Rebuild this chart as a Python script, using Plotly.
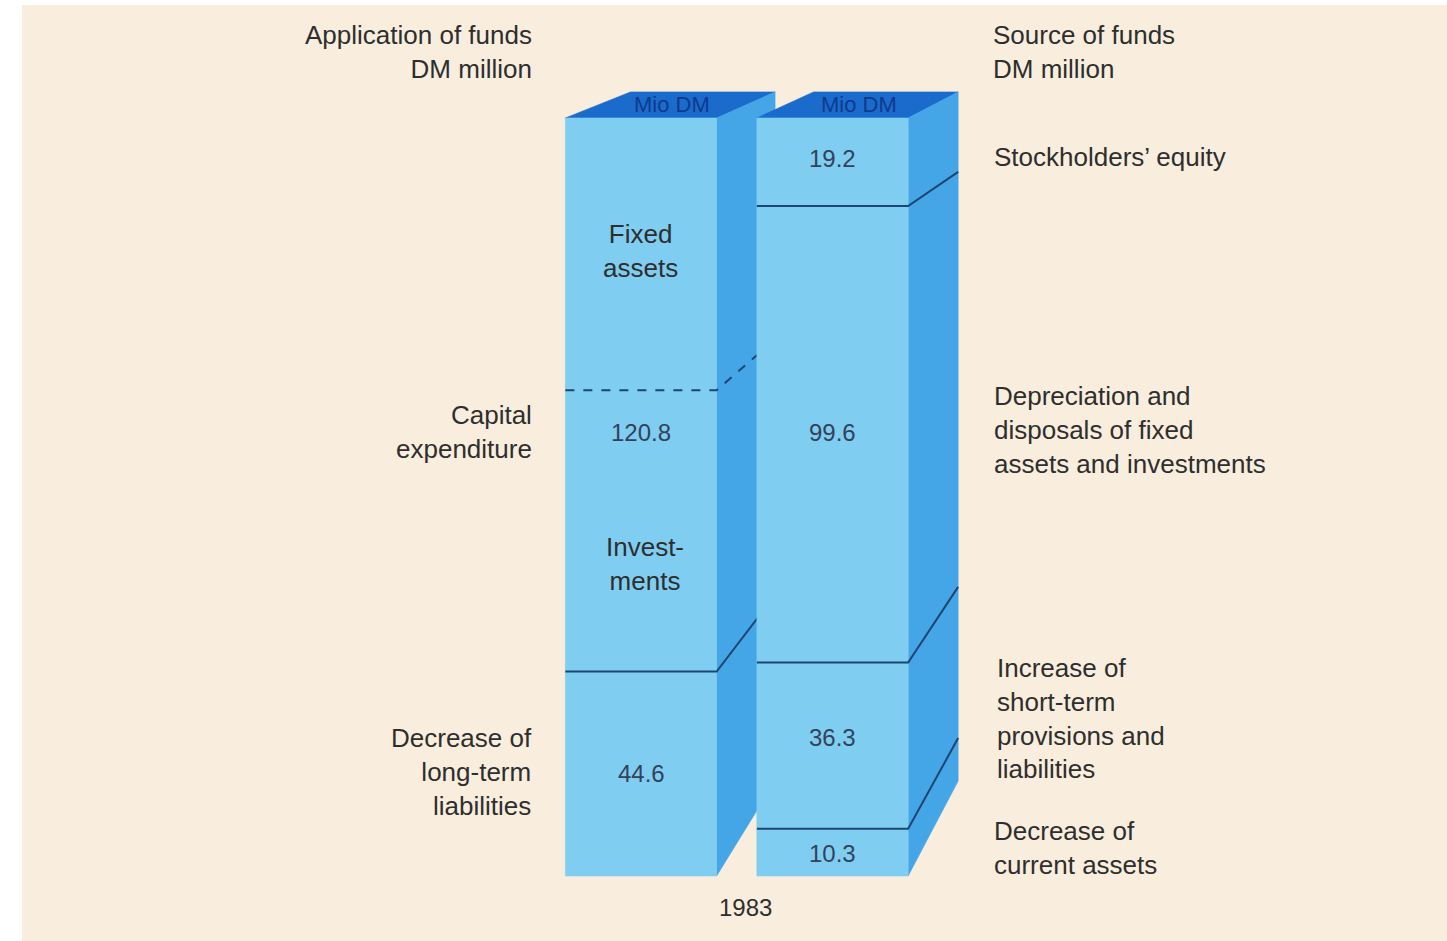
import plotly.graph_objects as go

# ---------------- data (DM million) ----------------
year_label = "1983"
unit_label = "Mio DM"
column_titles = ["Application of funds<br>DM million", "Source of funds<br>DM million"]

# Application of funds (bottom -> top)
application_labels = ["Decrease of<br>long-term<br>liabilities", "Capital<br>expenditure"]
application_values = [44.6, 120.8]
# split of capital expenditure shown by the dashed line
capital_parts_labels = ["Invest-<br>ments", "Fixed<br>assets"]
capital_parts_values = [61.4, 59.4]

# Source of funds (bottom -> top)
source_labels = ["Decrease of<br>current assets",
                 "Increase of<br>short-term<br>provisions and<br>liabilities",
                 "Depreciation and<br>disposals of fixed<br>assets and investments",
                 "Stockholders’ equity"]
source_values = [10.3, 36.3, 99.6, 19.2]

# ---------------- layout geometry / style ----------------
W, H = 1447, 941
ML, MT = 22, 5
BAR_W = 0.79
PX_PER_X = 191.5
PX_PER_Y = 4.583
X0_PX = 641.0
Y0_PX = 876.0
X_RANGE = [(ML - X0_PX) / PX_PER_X, (W - X0_PX) / PX_PER_X]
Y_RANGE = [-(H - Y0_PX) / PX_PER_Y, (Y0_PX - MT) / PX_PER_Y]

# pseudo-perspective for the 3D boxes
KX, KY = 0.956, 0.909
VX, VY = 7.33, 227.8

FRONT = "#7fcef1"
SIDE = "#44a6e6"
TOP = "#1a6bcc"
TOP_TEXT = "#0f3a8c"
EDGE = "#1e4470"
BG = "#f9eedd"
TXT = "#2e2e2e"
NUM = "#33425a"
FONT = "Liberation Sans, Arial, sans-serif"


def back(u, v):
    return VX + (u - VX) * KX, VY + (v - VY) * KY


def u_of(px):
    return (px - X0_PX) / PX_PER_X


def v_of(py):
    return (Y0_PX - py) / PX_PER_Y


fig = go.Figure()


def poly(pts, color):
    xs = [p[0] for p in pts] + [pts[0][0]]
    ys = [p[1] for p in pts] + [pts[0][1]]
    fig.add_trace(go.Scatter(x=xs, y=ys, mode="lines", fill="toself",
                             fillcolor=color, line=dict(width=0.6, color=color),
                             hoverinfo="skip", showlegend=False))


def seg_line(xs, ys, dash="solid"):
    fig.add_trace(go.Scatter(x=xs, y=ys, mode="lines",
                             line=dict(width=2, color=EDGE, dash=dash),
                             hoverinfo="skip", showlegend=False))


def draw_bar(center, values, dashed_level=None):
    xl, xr = center - BAR_W / 2, center + BAR_W / 2
    total = sum(values)
    poly([(xl, total), (xr, total), back(xr, total), back(xl, total)], TOP)
    poly([(xr, 0), (xr, total), back(xr, total), back(xr, 0)], SIDE)
    poly([(xl, 0), (xr, 0), (xr, total), (xl, total)], FRONT)
    cum = 0
    for v in values[:-1]:
        cum += v
        bx, by = back(xr, cum)
        seg_line([xl, xr, bx], [cum, cum, by])
    if dashed_level is not None:
        bx, by = back(xr, dashed_level)
        seg_line([xl, xr, bx], [dashed_level, dashed_level, by], dash="dash")
    return total


tot_app = draw_bar(0, application_values,
                   dashed_level=application_values[0] + capital_parts_values[0])
tot_src = draw_bar(1, source_values)

annotations = []


def ann(text, px, py, xanchor="center", size=26, color=TXT):
    annotations.append(dict(x=u_of(px), y=v_of(py), xref="x", yref="y",
                            text=text, showarrow=False, xanchor=xanchor,
                            yanchor="middle", align=xanchor if xanchor != "center" else "center",
                            font=dict(family=FONT, size=size, color=color)))


# column titles
ann(column_titles[0], 534, 52, "right")
ann(column_titles[1], 991, 52, "left")

# application side labels
ann(application_labels[1], 534, 432, "right")
ann(application_labels[0], 534, 772, "right")
# source side labels
ann(source_labels[3], 992, 157, "left")
ann(source_labels[2], 992, 430, "left")
ann(source_labels[1], 995, 718, "left")
ann(source_labels[0], 992, 848, "left")

# inside left bar
ann(capital_parts_labels[1], 640, 251)
ann(capital_parts_labels[0], 645, 564)
ann(f"{application_values[1]:.1f}", 641, 432, size=24, color=NUM)
ann(f"{application_values[0]:.1f}", 641, 773, size=24, color=NUM)

# inside right bar
for val, py in zip(source_values, [853, 737, 432, 158]):
    ann(f"{val:.1f}", 832, py, size=24, color=NUM)

# unit labels on top faces
for c, tot in ((0, tot_app), (1, tot_src)):
    fx, fy = c, tot
    bx, by = back(c, tot)
    annotations.append(dict(x=(fx + bx) / 2, y=(fy + by) / 2, xref="x", yref="y",
                            text=unit_label, showarrow=False, xanchor="center",
                            yanchor="middle",
                            font=dict(family=FONT, size=22, color=TOP_TEXT)))

# year
ann(year_label, 745, 907, size=24)

fig.update_layout(
    width=W, height=H,
    margin=dict(l=ML, r=0, t=MT, b=0, pad=0),
    paper_bgcolor="white",
    plot_bgcolor=BG,
    showlegend=False,
    xaxis=dict(range=X_RANGE, visible=False, fixedrange=True),
    yaxis=dict(range=Y_RANGE, visible=False, fixedrange=True),
    annotations=annotations,
)

fig.write_html("out.html")
